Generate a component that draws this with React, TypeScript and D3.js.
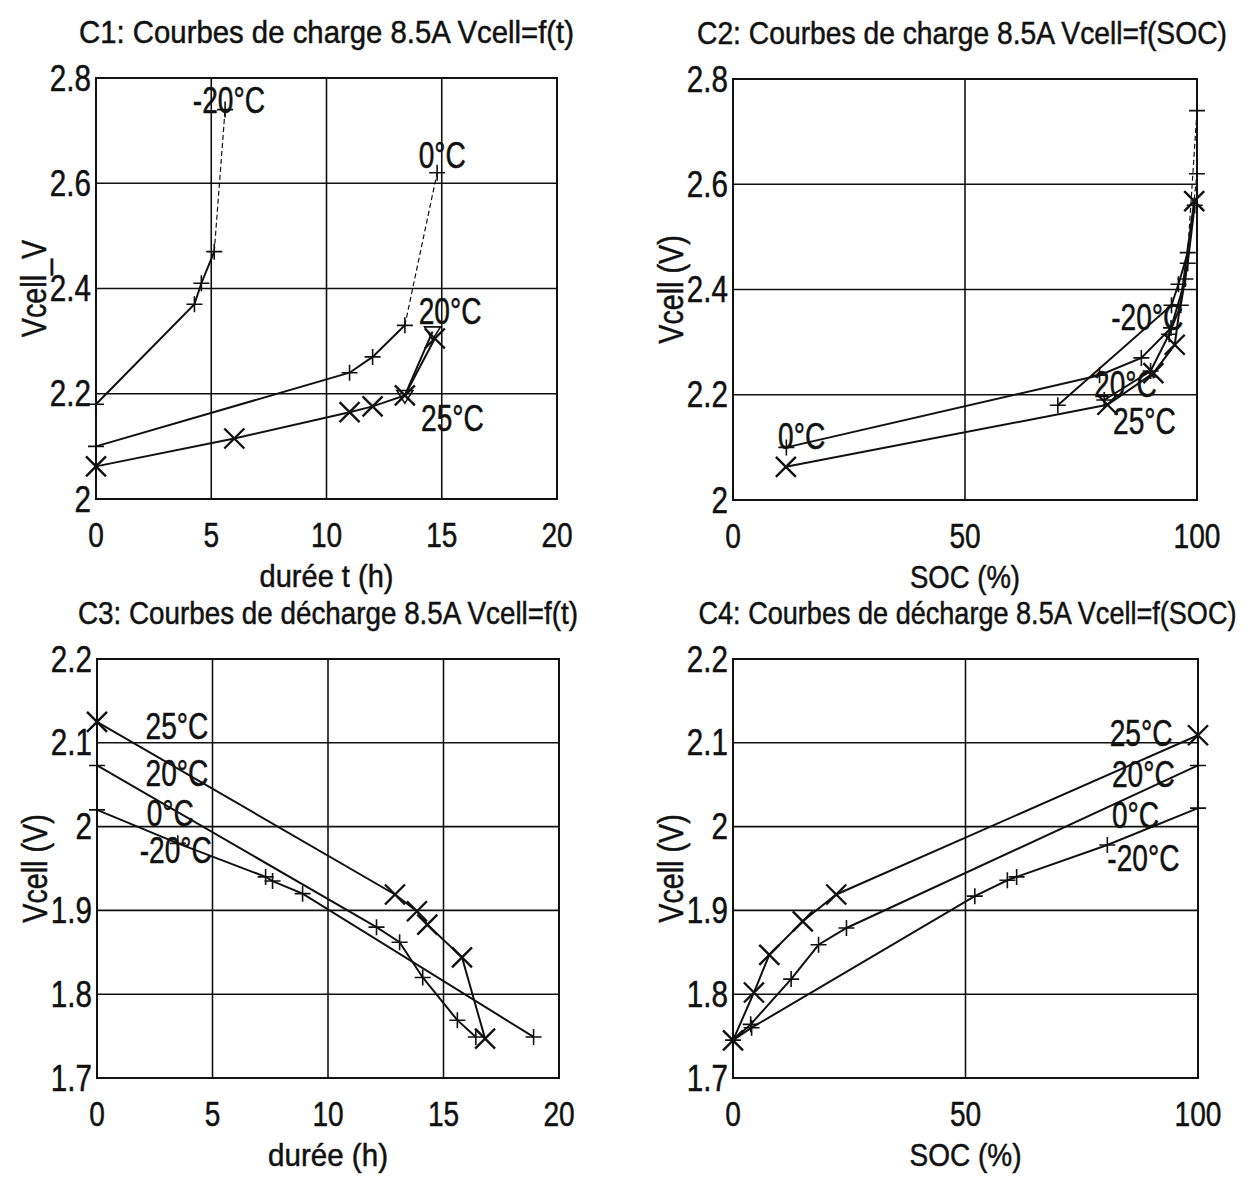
import React from "react";
import * as d3 from "d3";

// tick values
const T_TICKS = [0, 5, 10, 15, 20];
const SOC_TICKS = [0, 50, 100];
const CHARGE_V_TICKS = [2, 2.2, 2.4, 2.6, 2.8];
const DISCHARGE_V_TICKS = [1.7, 1.8, 1.9, 2, 2.1, 2.2];

// C1: charge, Vcell vs time (h)
const C1_M20_T = [0, 4.27, 4.57, 5.13, 5.6];
const C1_M20_V = [2.18, 2.37, 2.41, 2.47, 2.74];
const C1_0_T = [0, 11, 12, 13.4, 14.8];
const C1_0_V = [2.1, 2.24, 2.27, 2.33, 2.62];
const C1_20_T = [13.4, 14.6];
const C1_20_V = [2.197, 2.318];
const C1_25_T = [0, 6, 11, 12, 13.4, 14.7];
const C1_25_V = [2.062, 2.115, 2.165, 2.176, 2.197, 2.305];

// C2: charge, Vcell vs SOC (%)
const C2_M20_SOC = [70, 94.5, 96, 98, 100];
const C2_M20_V = [2.18, 2.37, 2.41, 2.47, 2.74];
const C2_0_SOC = [11.5, 79, 88, 94.4, 97.5, 100];
const C2_0_V = [2.1, 2.237, 2.27, 2.327, 2.42, 2.62];
const C2_20_SOC = [80, 90, 94, 96.5, 98, 99.5];
const C2_20_V = [2.19, 2.245, 2.315, 2.37, 2.45, 2.56];
const C2_25_SOC = [11.4, 80.7, 90.6, 95.2, 99.4];
const C2_25_V = [2.063, 2.181, 2.241, 2.295, 2.568];

// C3: discharge, Vcell vs time (h)
const C3_25_T = [0, 12.9, 13.85, 14.3, 15.8, 16.8];
const C3_25_V = [2.125, 1.919, 1.899, 1.883, 1.844, 1.747];
const C3_20_T = [0, 12.1, 13.1, 14.1, 15.6, 16.4];
const C3_20_V = [2.073, 1.88, 1.862, 1.82, 1.769, 1.749];
const C3_M20_T = [0, 3.5, 7.3, 7.6, 8.9, 18.9];
const C3_M20_V = [2.02, 1.98, 1.94, 1.935, 1.92, 1.749];

// C4: discharge, Vcell vs SOC (%)
const C4_25_SOC = [0, 4.5, 7.8, 15, 22.2, 100];
const C4_25_V = [1.745, 1.802, 1.847, 1.887, 1.919, 2.109];
const C4_20_SOC = [0, 3.8, 12.5, 18.4, 24.4, 100];
const C4_20_V = [1.745, 1.764, 1.818, 1.859, 1.879, 2.073];
const C4_M20_SOC = [0, 4, 52, 59, 61, 80.5, 100];
const C4_M20_V = [1.745, 1.76, 1.917, 1.936, 1.94, 1.978, 2.022];

const FONT = "'Liberation Sans', Arial, Helvetica, sans-serif";
const INK = "#111";

type Marker = "plus" | "cross" | "tri";
type Series = { xs: number[]; ys: number[]; marker: Marker; dashLast?: boolean };
type Note = { text: string; x: number; y: number };
type PanelDef = {
  title: string;
  titleLen: number;
  titleDx: number;
  box: { x0: number; x1: number; y0: number; y1: number };
  xDomain: [number, number];
  yDomain: [number, number];
  xTicks: number[];
  yTicks: number[];
  xLabel: string;
  xLabelLen: number;
  yLabel: string;
  series: Series[];
  notes: Note[];
};

const PANELS: PanelDef[] = [
  {
    title: "C1: Courbes de charge 8.5A Vcell=f(t)",
    titleLen: 495,
    titleDx: 0,
    box: { x0: 96, x1: 557, y0: 78, y1: 499 },
    xDomain: [0, 20],
    yDomain: [2, 2.8],
    xTicks: T_TICKS,
    yTicks: CHARGE_V_TICKS,
    xLabel: "durée t (h)",
    xLabelLen: 134,
    yLabel: "Vcell_V",
    series: [
      { xs: C1_M20_T, ys: C1_M20_V, marker: "plus", dashLast: true },
      { xs: C1_0_T, ys: C1_0_V, marker: "plus", dashLast: true },
      { xs: C1_20_T, ys: C1_20_V, marker: "tri" },
      { xs: C1_25_T, ys: C1_25_V, marker: "cross" },
    ],
    notes: [
      { text: "-20°C", x: 4.2, y: 2.758 },
      { text: "0°C", x: 14.0, y: 2.654 },
      { text: "20°C", x: 14.0, y: 2.357 },
      { text: "25°C", x: 14.1, y: 2.154 },
    ],
  },
  {
    title: "C2: Courbes de charge 8.5A Vcell=f(SOC)",
    titleLen: 530,
    titleDx: -3,
    box: { x0: 733, x1: 1197, y0: 79, y1: 500 },
    xDomain: [0, 100],
    yDomain: [2, 2.8],
    xTicks: SOC_TICKS,
    yTicks: CHARGE_V_TICKS,
    xLabel: "SOC (%)",
    xLabelLen: 110,
    yLabel: "Vcell (V)",
    series: [
      { xs: C2_M20_SOC, ys: C2_M20_V, marker: "plus", dashLast: true },
      { xs: C2_0_SOC, ys: C2_0_V, marker: "plus", dashLast: true },
      { xs: C2_20_SOC, ys: C2_20_V, marker: "plus" },
      { xs: C2_25_SOC, ys: C2_25_V, marker: "cross" },
    ],
    notes: [
      { text: "0°C", x: 9.7, y: 2.122 },
      { text: "-20°C", x: 81.5, y: 2.348 },
      { text: "20°C", x: 77.8, y: 2.22 },
      { text: "25°C", x: 81.9, y: 2.15 },
    ],
  },
  {
    title: "C3: Courbes de décharge 8.5A Vcell=f(t)",
    titleLen: 500,
    titleDx: 0,
    box: { x0: 97, x1: 559, y0: 659, y1: 1078 },
    xDomain: [0, 20],
    yDomain: [1.7, 2.2],
    xTicks: T_TICKS,
    yTicks: DISCHARGE_V_TICKS,
    xLabel: "durée (h)",
    xLabelLen: 120,
    yLabel: "Vcell (V)",
    series: [
      { xs: C3_25_T, ys: C3_25_V, marker: "cross" },
      { xs: C3_20_T, ys: C3_20_V, marker: "plus" },
      { xs: C3_M20_T, ys: C3_M20_V, marker: "plus" },
    ],
    notes: [
      { text: "25°C", x: 2.1, y: 2.12 },
      { text: "20°C", x: 2.1, y: 2.064 },
      { text: "0°C", x: 2.15, y: 2.016 },
      { text: "-20°C", x: 1.85, y: 1.972 },
    ],
  },
  {
    title: "C4: Courbes de décharge 8.5A Vcell=f(SOC)",
    titleLen: 538,
    titleDx: 2,
    box: { x0: 733, x1: 1198, y0: 659, y1: 1078 },
    xDomain: [0, 100],
    yDomain: [1.7, 2.2],
    xTicks: SOC_TICKS,
    yTicks: DISCHARGE_V_TICKS,
    xLabel: "SOC (%)",
    xLabelLen: 112,
    yLabel: "Vcell (V)",
    series: [
      { xs: C4_25_SOC, ys: C4_25_V, marker: "cross" },
      { xs: C4_20_SOC, ys: C4_20_V, marker: "plus" },
      { xs: C4_M20_SOC, ys: C4_M20_V, marker: "plus" },
    ],
    notes: [
      { text: "25°C", x: 81, y: 2.112 },
      { text: "20°C", x: 81.5, y: 2.063 },
      { text: "0°C", x: 81.5, y: 2.014 },
      { text: "-20°C", x: 80.5, y: 1.962 },
    ],
  },
];

const fmt = (d: number) => String(+d.toFixed(2));

function markerPath(m: Marker, cx: number, cy: number) {
  if (m === "plus") {
    const s = 8;
    return `M${cx - s},${cy}H${cx + s}M${cx},${cy - s}V${cy + s}`;
  }
  if (m === "cross") {
    const s = 10;
    return `M${cx - s},${cy - s}L${cx + s},${cy + s}M${cx - s},${cy + s}L${cx + s},${cy - s}`;
  }
  const s = 8;
  return `M${cx - s},${cy - s * 0.6}L${cx + s},${cy - s * 0.6}L${cx},${cy + s}Z`;
}

// condensed, slightly heavy text like the scanned figure
const Txt = ({ x, y, size, anchor = "middle", sx = 0.8, rotate = false, children }: any) => (
  <text
    transform={`translate(${x},${y})${rotate ? " rotate(-90)" : ""} scale(${sx},1)`}
    fontSize={size}
    fontFamily={FONT}
    textAnchor={anchor}
    dominantBaseline="central"
    fill={INK}
    stroke={INK}
    strokeWidth={0.5}
  >
    {children}
  </text>
);

const Panel = ({ p }: { p: PanelDef }) => {
  const { x0, x1, y0, y1 } = p.box;
  const x = d3.scaleLinear().domain(p.xDomain).range([x0, x1]);
  const y = d3.scaleLinear().domain(p.yDomain).range([y1, y0]);
  const line = d3
    .line<[number, number]>()
    .x((d) => x(d[0]))
    .y((d) => y(d[1]));
  const cx = (x0 + x1) / 2;
  const cy = (y0 + y1) / 2;

  return (
    <g>
      {/* title */}
      <text
        x={cx + p.titleDx}
        y={y0 - 46}
        fontSize={32}
        fontFamily={FONT}
        textAnchor="middle"
        dominantBaseline="central"
        textLength={p.titleLen}
        lengthAdjust="spacingAndGlyphs"
        fill={INK}
        stroke={INK}
        strokeWidth={0.5}
      >
        {p.title}
      </text>

      {/* grid */}
      {p.xTicks.slice(1, -1).map((t) => (
        <line key={"gx" + t} x1={x(t)} x2={x(t)} y1={y0} y2={y1} stroke={INK} strokeWidth={1.6} />
      ))}
      {p.yTicks.slice(1, -1).map((t) => (
        <line key={"gy" + t} x1={x0} x2={x1} y1={y(t)} y2={y(t)} stroke={INK} strokeWidth={1.6} />
      ))}
      <rect x={x0} y={y0} width={x1 - x0} height={y1 - y0} fill="none" stroke={INK} strokeWidth={2} />

      {/* tick labels */}
      {p.xTicks.map((t) => (
        <Txt key={"tx" + t} x={x(t)} y={y1 + 36} size={36} sx={0.78}>
          {fmt(t)}
        </Txt>
      ))}
      {p.yTicks.map((t) => (
        <Txt key={"ty" + t} x={x0 - 5} y={y(t)} size={37} sx={0.8} anchor="end">
          {fmt(t)}
        </Txt>
      ))}

      {/* axis labels */}
      <text
        x={cx}
        y={y1 + 77}
        fontSize={32}
        fontFamily={FONT}
        textAnchor="middle"
        dominantBaseline="central"
        textLength={p.xLabelLen}
        lengthAdjust="spacingAndGlyphs"
        fill={INK}
        stroke={INK}
        strokeWidth={0.5}
      >
        {p.xLabel}
      </text>
      <Txt x={x0 - 62} y={cy} size={35} sx={0.82} rotate>
        {p.yLabel}
      </Txt>

      {/* curves */}
      {p.series.map((s, i) => {
        const pts: [number, number][] = s.xs.map((v, k) => [v, s.ys[k]]);
        const solid = s.dashLast ? pts.slice(0, -1) : pts;
        return (
          <g key={"s" + i}>
            <path d={line(solid) || ""} fill="none" stroke={INK} strokeWidth={2} />
            {s.dashLast && (
              <path
                d={line(pts.slice(-2)) || ""}
                fill="none"
                stroke={INK}
                strokeWidth={1.2}
                strokeDasharray="5,3"
              />
            )}
            {pts.map((d, k) => (
              <path
                key={k}
                d={markerPath(s.marker, x(d[0]), y(d[1]))}
                fill="none"
                stroke={INK}
                strokeWidth={s.marker === "cross" ? 2.4 : 1.6}
              />
            ))}
          </g>
        );
      })}

      {/* temperature labels */}
      {p.notes.map((n, i) => (
        <Txt key={"n" + i} x={x(n.x)} y={y(n.y)} size={37} sx={0.76} anchor="start">
          {n.text}
        </Txt>
      ))}
    </g>
  );
};

export default function App() {
  return (
    <svg
      width={1249}
      height={1182}
      style={{ position: "absolute", left: 0, top: 0, display: "block", background: "#fff" }}
    >
      <rect width={1249} height={1182} fill="#fff" />
      {PANELS.map((p) => (
        <Panel key={p.title} p={p} />
      ))}
    </svg>
  );
}
